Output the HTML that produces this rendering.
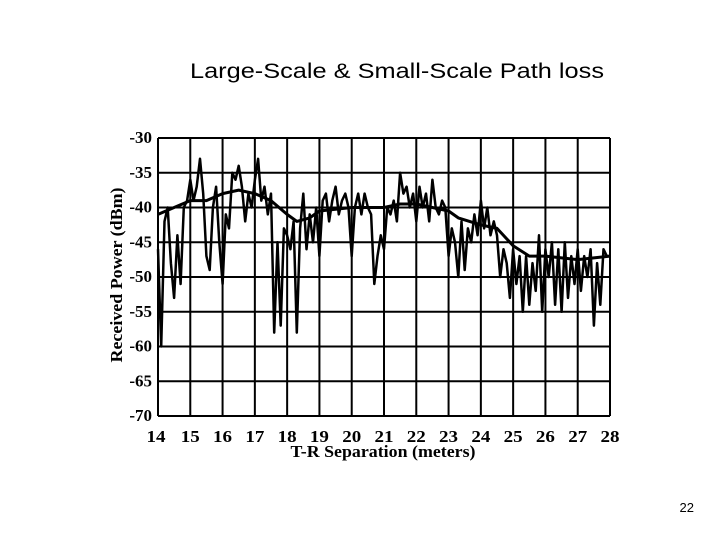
<!DOCTYPE html>
<html><head><meta charset="utf-8"><style>
body{margin:0;background:#fff;}
svg{display:block;}
.t{font-family:"Liberation Serif",serif;font-weight:bold;font-size:17px;fill:#000;}
</style></head><body>
<svg width="720" height="540" viewBox="0 0 720 540">
<text x="397" y="78" text-anchor="middle" font-family="Liberation Sans, sans-serif" font-size="21" textLength="414" lengthAdjust="spacingAndGlyphs" fill="#000">Large-Scale &amp; Small-Scale Path loss</text>
<text x="694" y="512" text-anchor="end" font-family="Liberation Sans, sans-serif" font-size="13" fill="#000">22</text>
<g id="chart"></g>
</svg>
<script>
const xTicks=[14,15,16,17,18,19,20,21,22,23,24,25,26,27,28];
const yTicks=[-30,-35,-40,-45,-50,-55,-60,-65,-70];
const fastStart=14, fastStep=0.1;
const fastValues=[-46,-60,-42,-40,-48,-53,-44,-51,-40,-39,
-36,-39,-37,-33,-38,-47,-49,-40,-37,-45,
-51,-41,-43,-35,-36,-34,-37,-42,-38,-40,
-36,-33,-39,-37,-41,-38,-58,-45,-57,-43,
-44,-46,-42,-58,-43,-38,-46,-41,-45,-40,
-47,-39,-38,-42,-39,-37,-41,-39,-38,-40,
-47,-40,-38,-41,-38,-40,-41,-51,-47,-44,
-46,-40,-41,-39,-42,-35,-38,-37,-40,-38,
-42,-37,-40,-38,-42,-36,-40,-41,-39,-40,
-47,-43,-45,-50,-42,-49,-43,-45,-41,-44,
-39,-43,-40,-44,-42,-44,-50,-46,-48,-53,
-46,-51,-47,-55,-47,-54,-48,-52,-44,-55,
-46,-50,-45,-54,-46,-55,-45,-53,-47,-51,
-46,-52,-47,-50,-46,-57,-48,-54,-46,-47,-47];
const meanDist=[14,14.5,15,15.5,16,16.5,17,17.5,18,18.3,18.7,19,20,21,21.5,22,22.5,23,23.3,24,24.5,25,25.5,26,27,28];
const meanValues=[-41,-40,-39,-39,-38,-37.5,-38,-39,-41,-42,-41.5,-40.5,-40,-40,-39.5,-39.5,-40,-40.5,-41.5,-42.5,-43,-45.5,-47,-47,-47.5,-47];
const L=158,R=610,T=138,B=416;
const xS=v=>L+(v-14)/14*(R-L);
const yS=v=>T+(-30-v)/40*(B-T);
const NS="http://www.w3.org/2000/svg";
const g=document.getElementById('chart');
function mk(tag,attrs){const e=document.createElementNS(NS,tag);for(const k in attrs)e.setAttribute(k,attrs[k]);g.appendChild(e);return e;}
xTicks.forEach((v,i)=>{
 const l=mk('line',{x1:xS(v),x2:xS(v),y1:T,y2:B,stroke:'#000','stroke-width':2});
 
 
 const t=mk('text',{x:xS(v)+(i==0?-2:0),y:442,'text-anchor':'middle',class:'t',textLength:19,lengthAdjust:'spacingAndGlyphs'});t.textContent=v;
 
 
});
yTicks.forEach(v=>{
 const l=mk('line',{x1:L,x2:R,y1:yS(v),y2:yS(v),stroke:'#000','stroke-width':2});
 
 
 const t=mk('text',{x:152,y:yS(v)+5,'text-anchor':'end',class:'t'});t.textContent=v;
 
 
});
const fp=fastValues.map((v,i)=>xS(fastStart+i*fastStep).toFixed(1)+','+yS(v).toFixed(1)).join(' ');
const f=mk('polyline',{points:fp,fill:'none',stroke:'#000','stroke-width':2.5,'stroke-linejoin':'round'});


const mp=meanValues.map((v,i)=>xS(meanDist[i]).toFixed(1)+','+yS(v).toFixed(1)).join(' ');
const m=mk('polyline',{points:mp,fill:'none',stroke:'#000','stroke-width':3,'stroke-linejoin':'round'});


const xt=mk('text',{x:383,y:457,'text-anchor':'middle',class:'t','font-size':16,textLength:185,lengthAdjust:'spacingAndGlyphs'});xt.textContent='T-R Separation (meters)';


const yt=mk('text',{x:0,y:0,'text-anchor':'middle',class:'t',transform:'translate(122,275) rotate(-90)','font-size':16,textLength:175,lengthAdjust:'spacingAndGlyphs'});yt.textContent='Received Power (dBm)';


</script>
</body></html>
